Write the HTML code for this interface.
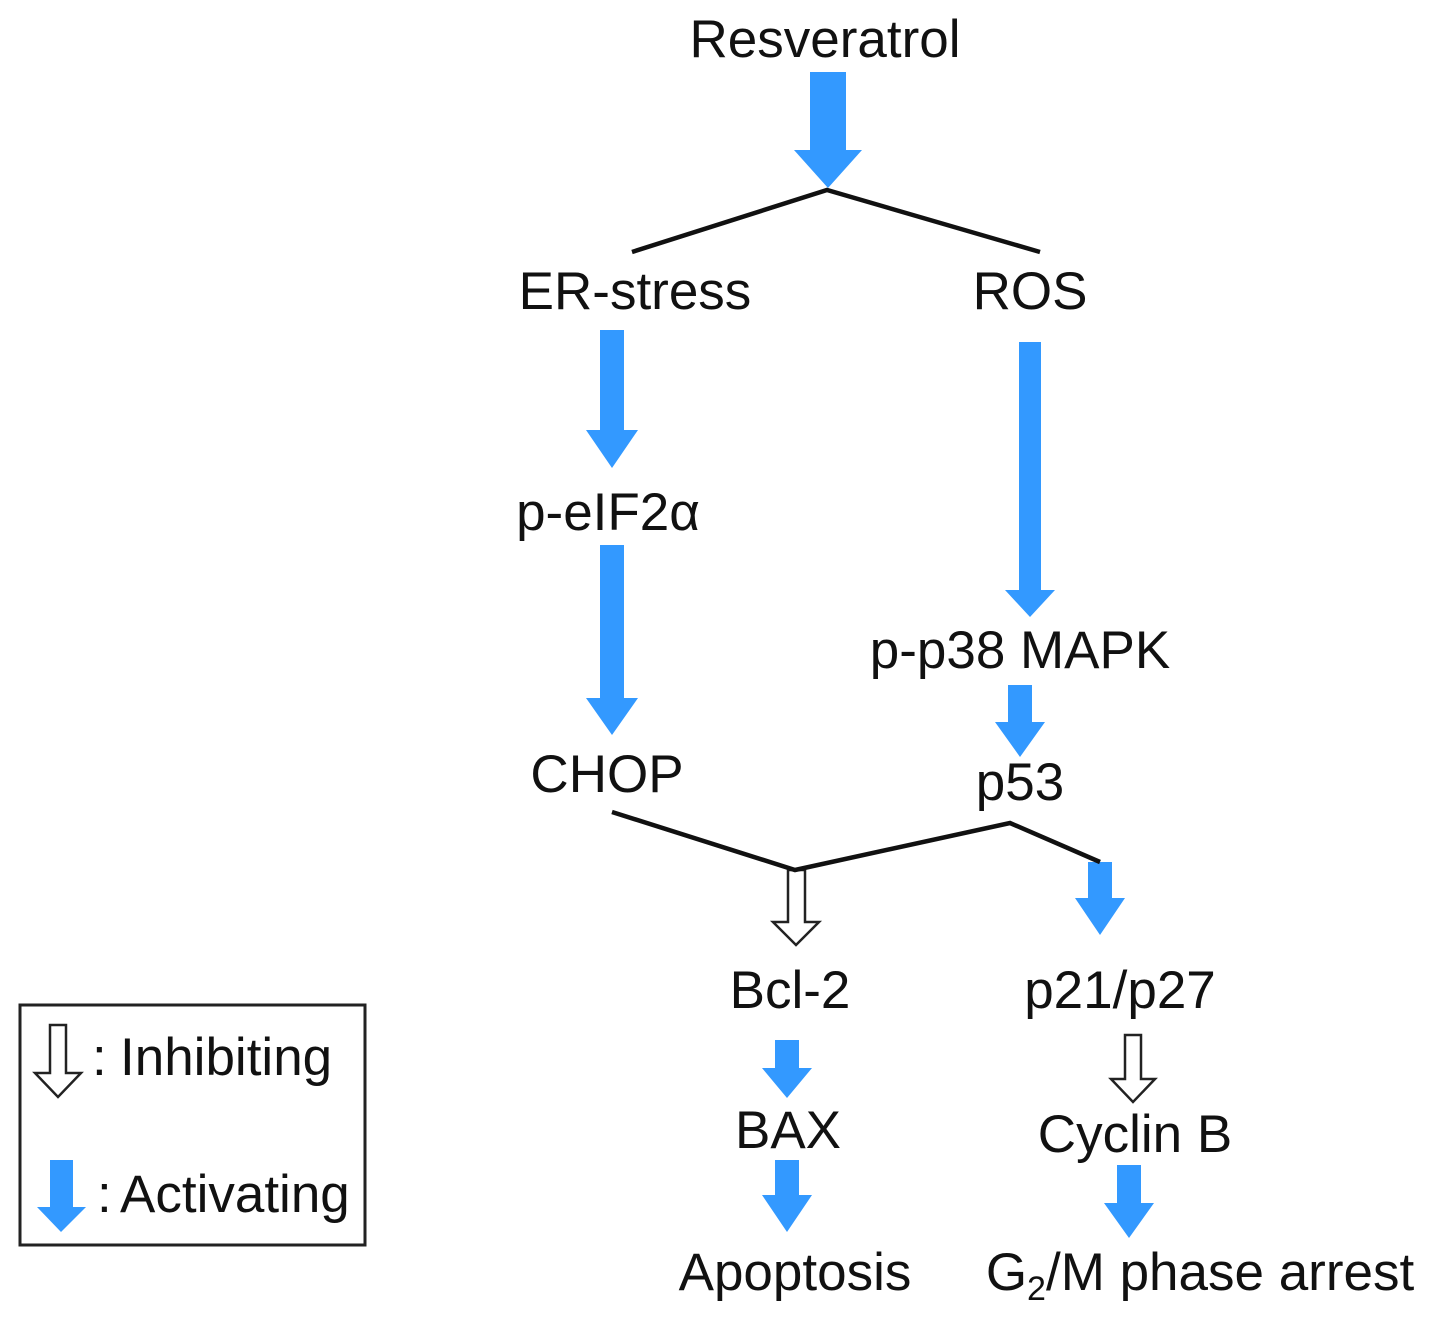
<!DOCTYPE html>
<html><head><meta charset="utf-8"><style>
html,body{margin:0;padding:0;background:#fff}
svg text{font-family:"Liberation Sans",sans-serif;font-size:53px;fill:#111}
</style></head><body>
<svg width="1441" height="1322" viewBox="0 0 1441 1322" xmlns="http://www.w3.org/2000/svg">
<g fill="#3399ff">
<polygon points="810,72 846,72 846,150 862,150 828,188 794,150 810,150"/>
<polygon points="600,330 624,330 624,430 638,430 612,468 586,430 600,430"/>
<polygon points="600,545 624,545 624,698 638,698 612,735 586,698 600,698"/>
<polygon points="1019,342 1041,342 1041,590 1055,590 1030,617 1005,590 1019,590"/>
<polygon points="1008,685 1032,685 1032,722 1045,722 1020,757 995,722 1008,722"/>
<polygon points="1088,862 1112,862 1112,898 1125,898 1100,935 1075,898 1088,898"/>
<polygon points="775,1040 799,1040 799,1068 812,1068 787,1098 762,1068 775,1068"/>
<polygon points="775,1160 799,1160 799,1195 812,1195 787,1232 762,1195 775,1195"/>
<polygon points="1117,1165 1141,1165 1141,1203 1154,1203 1129,1238 1104,1203 1117,1203"/>
<polygon points="50,1160 73,1160 73,1207 86,1207 61,1232 37,1207 50,1207"/>
</g>
<g fill="#fff" stroke="#222" stroke-width="2.5">
<polygon points="788,870 805,870 805,922 819,922 796,945 773,922 788,922"/>
<polygon points="1125,1035 1141,1035 1141,1079 1155,1079 1133,1102 1111,1079 1125,1079"/>
<polygon points="50,1025 66,1025 66,1073 81,1073 58,1097 35,1073 50,1073"/>
</g>
<g fill="none" stroke="#111" stroke-width="4.5">
<polyline points="632,252 827,190 1040,252"/>
<polyline points="612,812 795,870 1010,823 1100,862"/>
</g>
<rect x="20" y="1005" width="345" height="240" fill="none" stroke="#222" stroke-width="3"/>
<g text-anchor="middle">
<text x="825" y="57">Resveratrol</text>
<text x="635" y="309">ER-stress</text>
<text x="1030" y="309">ROS</text>
<text x="608" y="530">p-eIF2α</text>
<text x="1020" y="668">p-p38 MAPK</text>
<text x="607" y="792">CHOP</text>
<text x="1020" y="800">p53</text>
<text x="790" y="1008">Bcl-2</text>
<text x="1120" y="1008">p21/p27</text>
<text x="788" y="1148">BAX</text>
<text x="1135" y="1152">Cyclin B</text>
<text x="795" y="1290">Apoptosis</text>
<text x="1200" y="1290">G<tspan font-size="34" dy="10">2</tspan><tspan dy="-10">/M phase arrest</tspan></text>
</g>
<text x="92" y="1075" font-size="24">:</text>
<text x="120" y="1075">Inhibiting</text>
<text x="97" y="1212" font-size="24">:</text>
<text x="120" y="1212">Activating</text>
</svg>
</body></html>
